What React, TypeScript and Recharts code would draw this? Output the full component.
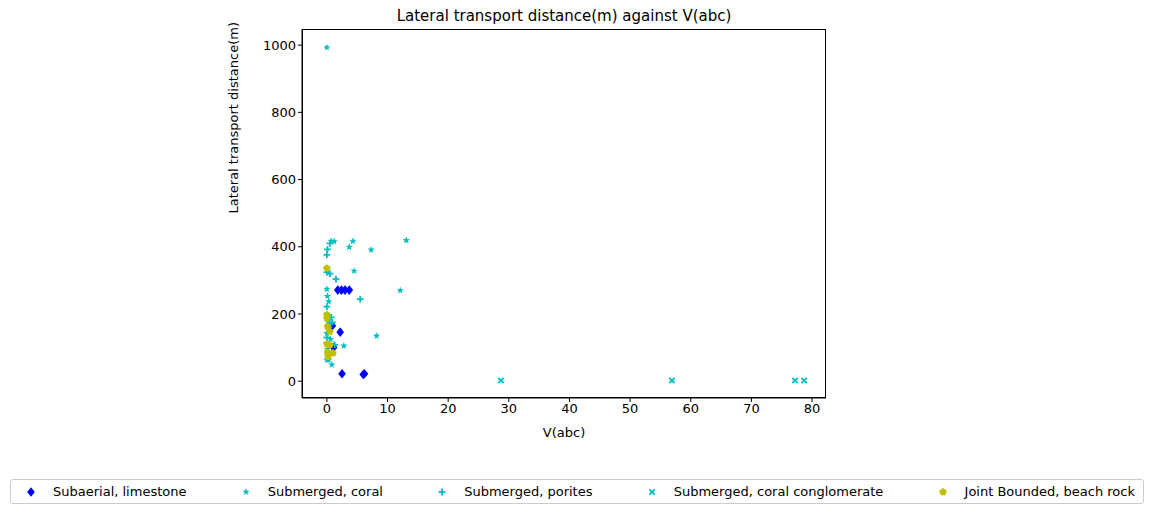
import React from "react";
import { ScatterChart, Scatter, XAxis, YAxis } from "recharts";

const subaerialLimestone = [
  { v: 1.8, d: 271 }, { v: 2.4, d: 271 }, { v: 3.0, d: 271 }, { v: 3.7, d: 271 },
  { v: 2.2, d: 146 }, { v: 2.5, d: 22 }, { v: 6.0, d: 20 }, { v: 6.2, d: 22 },
  { v: 0.9, d: 165 }, { v: 1.1, d: 100 },
];
const submergedCoral = [
  { v: 0, d: 993 }, { v: 0.7, d: 417 }, { v: 1.2, d: 416 }, { v: 3.7, d: 399 },
  { v: 4.3, d: 417 }, { v: 7.3, d: 391 }, { v: 13.1, d: 419 }, { v: 4.5, d: 328 },
  { v: 12.1, d: 270 }, { v: 8.2, d: 135 }, { v: 2.8, d: 105 }, { v: 0.8, d: 49 },
  { v: 0, d: 274 }, { v: 0.1, d: 253 }, { v: 0.3, d: 237 }, { v: 0, d: 143 },
  { v: 0, d: 63 }, { v: 0.3, d: 63 }, { v: 0.2, d: 180 }, { v: 0.4, d: 170 },
  { v: 0, d: 200 }, { v: 0.6, d: 125 }, { v: 0.1, d: 95 },
];
const submergedPorites = [
  { v: 0, d: 376 }, { v: 0.1, d: 392 }, { v: 0.5, d: 410 }, { v: 0, d: 324 },
  { v: 0.5, d: 320 }, { v: 1.5, d: 304 }, { v: 5.5, d: 244 }, { v: 0, d: 222 },
  { v: 0.7, d: 190 }, { v: 0.9, d: 175 }, { v: 1.3, d: 108 }, { v: 0.3, d: 160 },
  { v: 0, d: 130 }, { v: 0.2, d: 80 },
];
const submergedConglomerate = [
  { v: 28.7, d: 2 }, { v: 56.9, d: 2 }, { v: 77.2, d: 2 }, { v: 78.7, d: 2 },
];
const jointBoundedBeachRock = [
  { v: 0, d: 336 }, { v: 0, d: 197 }, { v: 0, d: 187 }, { v: 0.1, d: 163 },
  { v: 0.5, d: 148 }, { v: 0, d: 111 }, { v: 0.5, d: 108 }, { v: 0.1, d: 86 },
  { v: 1.0, d: 84 }, { v: 0.2, d: 73 },
];

const xTicks = [0, 10, 20, 30, 40, 50, 60, 70, 80];
const yTicks = [0, 200, 400, 600, 800, 1000];

const BLUE = "#0000ff";
const CYAN = "#00bfbf";
const OLIVE = "#bfbf00";

type Kind = "diamond" | "star" | "plus" | "x" | "pentagon";

function Marker({ kind, cx, cy, color }: { kind: Kind; cx: number; cy: number; color: string }) {
  if (kind === "diamond") {
    const r = 4.8;
    return <polygon points={`${cx},${cy - r} ${cx + r * 0.8},${cy} ${cx},${cy + r} ${cx - r * 0.8},${cy}`} fill={color} />;
  }
  if (kind === "star") {
    const pts: string[] = [];
    for (let i = 0; i < 10; i++) {
      const r = i % 2 === 0 ? 3.8 : 1.6;
      const a = -Math.PI / 2 + (i * Math.PI) / 5;
      pts.push(`${cx + r * Math.cos(a)},${cy + r * Math.sin(a)}`);
    }
    return <polygon points={pts.join(" ")} fill={color} />;
  }
  if (kind === "plus") {
    return (
      <g stroke={color} strokeWidth={1.8}>
        <line x1={cx - 3.4} y1={cy} x2={cx + 3.4} y2={cy} />
        <line x1={cx} y1={cy - 3.4} x2={cx} y2={cy + 3.4} />
      </g>
    );
  }
  if (kind === "x") {
    return (
      <g stroke={color} strokeWidth={1.8}>
        <line x1={cx - 2.7} y1={cy - 2.7} x2={cx + 2.7} y2={cy + 2.7} />
        <line x1={cx - 2.7} y1={cy + 2.7} x2={cx + 2.7} y2={cy - 2.7} />
      </g>
    );
  }
  const pts: string[] = [];
  for (let i = 0; i < 5; i++) {
    const a = -Math.PI / 2 + (i * 2 * Math.PI) / 5;
    pts.push(`${cx + 4 * Math.cos(a)},${cy + 4 * Math.sin(a)}`);
  }
  return <polygon points={pts.join(" ")} fill={color} />;
}

const shape = (kind: Kind, color: string) => (p: any) => <Marker kind={kind} cx={p.cx} cy={p.cy} color={color} />;

const legendItems: { label: string; kind: Kind; color: string }[] = [
  { label: "Subaerial, limestone", kind: "diamond", color: BLUE },
  { label: "Submerged, coral", kind: "star", color: CYAN },
  { label: "Submerged, porites", kind: "plus", color: CYAN },
  { label: "Submerged, coral conglomerate", kind: "x", color: CYAN },
  { label: "Joint Bounded, beach rock", kind: "pentagon", color: OLIVE },
];

const font = "DejaVu Sans, sans-serif";

export default function App() {
  return (
    <div style={{ position: "absolute", left: 0, top: 0, width: 1155, height: 515, background: "#fff", fontFamily: font }}>
      <div style={{ position: "absolute", left: 302, width: 524, top: 7, textAlign: "center", fontSize: 15 }}>
        Lateral transport distance(m) against V(abc)
      </div>
      <ScatterChart width={1155} height={515} margin={{ top: 29, right: 329, bottom: 72, left: 252 }}>
        <XAxis
          type="number"
          dataKey="v"
          domain={[-4.1, 82.3]}
          ticks={xTicks}
          allowDataOverflow
          tick={{ fill: "#000", fontSize: 13, fontFamily: font }}
          stroke="#000"
          tickSize={4}
          height={45}
          label={{ value: "V(abc)", position: "insideBottom", offset: 6, fill: "#000", fontSize: 13, fontFamily: font }}
        />
        <YAxis
          type="number"
          dataKey="d"
          domain={[-50, 1048]}
          ticks={yTicks}
          allowDataOverflow
          tick={{ fill: "#000", fontSize: 13, fontFamily: font }}
          stroke="#000"
          tickSize={4}
          width={50}
          label={{ value: "Lateral transport distance(m)", angle: -90, position: "insideLeft", dx: -24, fill: "#000", fontSize: 13, fontFamily: font }}
        />
        <Scatter data={subaerialLimestone} shape={shape("diamond", BLUE)} isAnimationActive={false} />
        <Scatter data={submergedCoral} shape={shape("star", CYAN)} isAnimationActive={false} />
        <Scatter data={submergedPorites} shape={shape("plus", CYAN)} isAnimationActive={false} />
        <Scatter data={submergedConglomerate} shape={shape("x", CYAN)} isAnimationActive={false} />
        <Scatter data={jointBoundedBeachRock} shape={shape("pentagon", OLIVE)} isAnimationActive={false} />
      </ScatterChart>
      <div style={{ position: "absolute", left: 302, top: 29, width: 524, height: 369, border: "1px solid #000", boxSizing: "border-box", pointerEvents: "none" }} />
      <div
        style={{
          position: "absolute", left: 10, top: 479, width: 1134, height: 25, border: "1px solid #ccc",
          borderRadius: 3, display: "flex", alignItems: "center", justifyContent: "space-between",
          padding: "0 8px 0 14px", boxSizing: "border-box", fontSize: 13,
        }}
      >
        {legendItems.map((it) => (
          <div key={it.label} style={{ display: "flex", alignItems: "center" }}>
            <svg width={12} height={12} style={{ marginRight: 16 }}>
              <Marker kind={it.kind} cx={6} cy={6} color={it.color} />
            </svg>
            <span>{it.label}</span>
          </div>
        ))}
      </div>
    </div>
  );
}
